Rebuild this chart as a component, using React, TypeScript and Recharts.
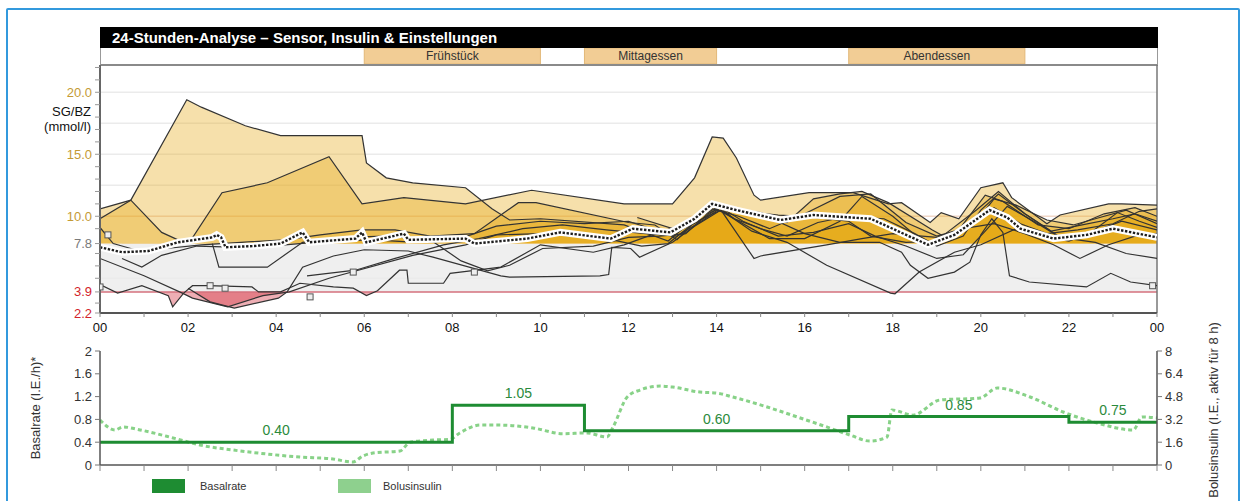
import React from "react";
import {
  ComposedChart, Line, Area, Scatter, XAxis, YAxis,
  ReferenceArea, ReferenceLine, ReferenceDot,
} from "recharts";

type Pt = [number, number];

// ---- x axis (hours of the day)
const HOUR_TICKS = [0, 1, 2, 3, 4, 5, 6, 7, 8, 9, 10, 11, 12, 13, 14, 15, 16, 17, 18, 19, 20, 21, 22, 23, 24];
const HOUR_LABELS = ["00", "02", "04", "06", "08", "10", "12", "14", "16", "18", "20", "22", "00"];

// ---- glucose axis
const GLUCOSE_TICKS = [2.2, 3, 3.9, 5, 6, 7, 7.8, 9, 10, 11, 12, 13, 14, 15, 16, 17, 18, 19, 20, 21, 22];
const GLUCOSE_LABEL_VALUES = [2.2, 3.9, 7.8, 10, 15, 20];
const GLUCOSE_LABEL_TEXT = ["2.2", "3.9", "7.8", "10.0", "15.0", "20.0"];
const GRID_VALUES = [5, 12.5, 15, 17.5, 20];

// ---- meals
const MEALS = ["Frühstück", "Mittagessen", "Abendessen"];
const MEAL_START = [6, 11, 17];
const MEAL_END = [10, 14, 21];

// ---- sensor traces (hour, mmol/l)
const TRACE_1: Pt[] = [[0, 10.6], [0.7, 11.3], [1.97, 19.4], [2.3, 18.8], [3.3, 17.3], [4.1, 16.5], [5.95, 16.5], [6.05, 14.3], [6.5, 13.1], [7.1, 12.7], [8.3, 12.3], [8.9, 10.6], [9.3, 9.7], [10.0, 9.8], [11.9, 9.3], [12.9, 8.0], [13.4, 9.5], [14.0, 10.9], [14.4, 9.8], [15.0, 9.0], [15.6, 8.4], [16.3, 9.5], [17.0, 10.0], [17.8, 9.8], [18.5, 8.6], [19.0, 7.6], [19.6, 8.4], [20.0, 10.5], [20.4, 11.8], [21.0, 10.2], [21.6, 8.8], [22.3, 9.3], [23.0, 9.8], [23.5, 10.2], [24, 9.6]];
const TRACE_2: Pt[] = [[0, 9.8], [0.7, 11.3], [1.4, 8.7], [1.77, 8.1], [2.05, 8.0], [2.77, 11.9], [3.8, 12.7], [5.2, 14.8], [5.95, 11.0], [6.9, 11.5], [8.3, 11.0], [9.8, 12.1], [11.9, 11.0], [13.0, 11.0], [13.5, 13.1], [13.9, 16.4], [14.15, 16.3], [14.45, 14.7], [14.85, 11.7], [15.0, 11.3], [16.1, 11.9], [17.1, 11.9], [17.9, 11.0], [18.2, 11.1], [18.85, 9.5], [19.1, 10.3], [19.5, 9.8], [20.0, 12.3], [20.5, 12.7], [20.7, 11.5], [21.5, 9.4], [21.8, 10.1], [22.9, 11.0], [23.2, 11.0], [24, 10.9]];
const TRACE_3: Pt[] = [[0, 9.1], [0.3, 7.8], [0.8, 7.3], [1.5, 7.4], [2.3, 7.7], [3.2, 7.9], [4.2, 8.1], [5.0, 8.5], [5.95, 8.9], [6.7, 8.9], [7.5, 8.4], [8.5, 8.6], [9.5, 11.1], [9.9, 11.1], [12.0, 9.5], [12.6, 9.3], [13.1, 8.1], [13.6, 9.9], [14.05, 10.8], [15.0, 10.3], [15.6, 9.5], [16.2, 11.4], [16.8, 11.8], [17.3, 12.0], [17.9, 11.1], [18.9, 8.9], [19.3, 8.1], [19.9, 9.6], [20.3, 11.4], [20.8, 10.9], [21.5, 9.7], [22.1, 9.3], [22.7, 9.9], [23.3, 10.5], [24, 9.4]];
const TRACE_4: Pt[] = [[0, 4.5], [0.4, 3.8], [0.95, 4.4], [1.55, 3.6], [1.65, 2.7], [1.9, 3.8], [2.1, 4.4], [2.45, 4.4], [3.45, 4.3], [3.6, 3.9], [4.1, 3.9], [4.54, 4.6], [5.3, 4.3], [5.75, 4.2], [6.05, 3.6], [6.3, 4.0], [6.8, 5.65], [6.97, 5.65], [7.0, 4.6], [7.8, 4.6], [7.95, 5.4], [8.55, 5.65], [9.1, 5.9], [10.0, 7.7], [11.2, 7.1], [11.9, 7.7], [12.6, 8.6], [13.2, 9.3], [13.9, 10.6], [14.5, 10.0], [15.2, 9.0], [16.0, 10.2], [16.8, 11.6], [17.5, 11.8], [18.3, 9.5], [19.0, 8.4], [19.5, 8.9], [20.1, 11.7], [20.5, 11.2], [21.3, 9.3], [22.0, 9.0], [22.8, 10.2], [23.5, 10.7], [24, 10.0]];
const TRACE_5: Pt[] = [[0, 6.6], [1.0, 5.2], [1.87, 3.8], [2.1, 3.4], [2.9, 2.7], [3.7, 3.6], [4.3, 3.9], [5.2, 5.0], [7.1, 6.85], [8.3, 7.7], [9.0, 8.5], [10.0, 8.6], [11.5, 8.2], [12.3, 7.6], [12.9, 7.8], [13.5, 9.5], [14.1, 10.5], [14.85, 6.6], [15.0, 6.8], [16.5, 7.7], [17.3, 8.2], [18.0, 8.6], [19.0, 8.3], [19.6, 9.0], [20.3, 9.4], [21.0, 8.6], [21.65, 7.7], [22.25, 6.6], [22.9, 7.7], [23.5, 8.4], [24, 8.6]];
const TRACE_6: Pt[] = [[2.0, 4.2], [2.5, 3.1], [3.05, 2.6], [4.05, 3.4], [4.25, 3.9], [4.6, 5.9], [5.3, 6.8], [6.0, 7.3], [7.0, 7.2], [7.56, 6.7], [9.1, 5.2], [9.3, 5.1], [11.35, 5.2], [11.55, 5.3], [11.62, 7.5], [12.05, 7.4], [12.25, 6.7], [13.0, 7.9], [13.5, 9.2], [14.1, 10.5], [14.8, 8.8], [15.6, 7.9], [16.5, 6.05], [17.95, 3.8], [18.05, 3.75], [18.6, 5.5], [19.4, 7.1], [20.0, 7.7], [20.8, 9.0], [21.3, 8.5], [22.0, 8.0], [22.5, 8.7], [23.1, 10.3], [23.6, 9.6], [24, 9.1]];
const TRACE_7: Pt[] = [[2.55, 7.8], [2.7, 5.9], [3.8, 5.9], [4.6, 7.9], [5.5, 8.3], [6.5, 8.4], [7.5, 8.1], [8.2, 6.4], [8.8, 5.6], [9.3, 6.05], [10.05, 7.4], [11.2, 7.6], [12.0, 8.3], [12.7, 8.4], [13.3, 8.6], [13.8, 10.2], [14.2, 10.9], [15.0, 10.2], [16.0, 8.6], [16.8, 7.9], [17.7, 7.9], [18.2, 7.1], [18.4, 6.05], [18.8, 5.0], [19.4, 5.5], [19.75, 6.3], [20.0, 8.5], [20.25, 9.8], [20.5, 8.7], [20.65, 5.2], [21.1, 4.7], [22.4, 4.3], [22.95, 5.4], [23.4, 4.7], [24, 4.4]];
const TRACE_8: Pt[] = [[4.7, 5.2], [5.8, 5.65], [6.7, 6.6], [7.8, 7.7], [8.6, 8.2], [9.6, 9.0], [10.5, 9.3], [11.5, 8.9], [12.4, 8.6], [13.1, 8.4], [13.7, 9.7], [14.1, 10.7], [14.6, 9.6], [15.4, 8.4], [16.2, 8.7], [17.0, 9.4], [17.6, 8.4], [18.3, 7.6], [19.0, 6.6], [19.6, 6.9], [20.1, 8.8], [20.6, 10.8], [21.2, 9.6], [21.8, 8.3], [22.6, 7.9], [23.3, 7.0], [24, 6.6]];
const TRACE_9: Pt[] = [[0.5, 6.6], [0.95, 5.9], [1.4, 6.85], [2.2, 7.6], [3.2, 7.5], [4.2, 7.7], [5.2, 8.0], [6.2, 8.1], [7.2, 7.9], [8.0, 8.0], [9.0, 9.2], [10.0, 9.6], [11.0, 9.4], [12.0, 9.6], [12.5, 9.0], [13.0, 8.6], [13.6, 9.6], [14.1, 10.8], [14.6, 10.4], [15.4, 10.1], [16.0, 10.0], [17.0, 9.6], [17.5, 8.4], [18.3, 7.9], [19.0, 8.0], [19.8, 9.4], [20.3, 10.7], [20.9, 9.4], [21.5, 8.6], [22.2, 8.9], [23.0, 9.4], [23.6, 10.4], [24, 10.6]];
const TRACE_10: Pt[] = [[12.2, 9.9], [13.0, 9.0], [13.9, 10.8], [14.4, 9.8], [15.2, 8.2], [16.0, 8.2], [16.8, 9.6], [17.3, 11.6], [18.0, 10.0], [18.8, 7.6], [19.2, 8.6], [19.9, 10.5], [20.4, 12.0], [21.0, 10.2], [21.8, 8.3], [22.6, 8.8], [23.2, 9.6], [24, 8.9]];
const TRACES = [TRACE_1, TRACE_2, TRACE_3, TRACE_4, TRACE_5, TRACE_6, TRACE_7, TRACE_8, TRACE_9, TRACE_10];

// ---- median
const MEDIAN: Pt[] = [[0, 7.5], [0.5, 7.1], [1.1, 7.2], [1.77, 7.9], [2.55, 8.3], [2.65, 8.5], [2.75, 8.3], [2.85, 7.5], [3.5, 7.6], [4.1, 7.8], [4.6, 8.7], [4.75, 7.9], [5.8, 8.2], [5.95, 8.7], [6.05, 7.9], [6.9, 8.6], [7.0, 8.1], [8.3, 8.2], [8.5, 7.8], [9.7, 8.2], [10.45, 8.7], [11.6, 8.2], [12.1, 9.0], [12.95, 8.7], [13.5, 9.8], [13.9, 11.0], [14.45, 10.5], [15.45, 9.7], [16.2, 10.1], [17.5, 9.8], [18.8, 7.7], [19.4, 8.5], [20.2, 10.5], [20.6, 9.9], [20.9, 9.0], [21.65, 8.2], [22.4, 8.5], [23.0, 9.0], [24, 8.3]];

// ---- blood glucose meter readings
const BZ_H = [0, 0.18, 2.5, 2.84, 4.77, 5.75, 8.5, 23.9];
const BZ_V = [4.3, 8.5, 4.4, 4.2, 3.5, 5.5, 5.5, 4.4];

// ---- insulin
const BASAL_START = [0, 8, 11, 17, 22];
const BASAL_RATE = [0.4, 1.05, 0.6, 0.85, 0.75];
const BASAL_TICKS = [0, 0.4, 0.8, 1.2, 1.6, 2];
const BOLUS_TICKS = [0, 1.6, 3.2, 4.8, 6.4, 8];
const BOLUS_H = [0, 0.34, 0.52, 0.91, 1.66, 2.27, 3.02, 3.79, 4.54, 5.29, 5.74, 5.97, 6.2, 6.81, 7.04, 7.56, 7.95, 8.17, 8.63, 9.08, 9.83, 10.51, 11.06, 11.51, 11.65, 11.97, 12.26, 12.72, 13.0, 13.62, 14.0, 14.37, 15.15, 15.9, 16.5, 17.03, 17.48, 17.87, 17.98, 18.46, 19.07, 19.98, 20.37, 21.12, 21.87, 22.64, 23.46, 23.66, 24];
const BOLUS_V = [3.16, 2.46, 2.67, 2.46, 1.9, 1.4, 1.05, 0.77, 0.56, 0.42, 0.21, 0.63, 0.84, 0.98, 1.6, 1.75, 1.8, 2.25, 2.8, 2.8, 2.6, 2.2, 2.25, 1.96, 2.67, 4.77, 5.26, 5.54, 5.47, 5.12, 5.05, 4.77, 4.07, 3.3, 2.67, 2.1, 1.68, 1.96, 3.86, 3.5, 4.56, 4.7, 5.4, 4.77, 3.72, 2.95, 2.46, 3.37, 3.3];

// ---- layout
const W = 1245;
const TOP_H = 350;
const PLOT_L = 100;
const PLOT_R = 1157;
const PLOT_T = 65;
const PLOT_B = 313;
const Y_MIN = 2.2;
const Y_MAX = 22.2;
const HIGH = 7.8;
const LOW = 3.9;
const FONT = '"Liberation Sans", Arial, Helvetica, sans-serif';
const LABEL_COLORS = ["#d2232a", "#d2232a", "#7a7a7a", "#c49a35", "#c49a35", "#c49a35"];

const yPix = (v: number) => PLOT_T + ((Y_MAX - v) / (Y_MAX - Y_MIN)) * (PLOT_B - PLOT_T);
const rows = (pts: Pt[]) => pts.map(([h, v]) => ({ h, v }));
const hourLabel = (h: number) => (h % 2 === 0 ? HOUR_LABELS[h / 2] : "");

const overlayMargin = { top: PLOT_T, right: W - PLOT_R, bottom: TOP_H - PLOT_B, left: PLOT_L };

function GlucoseTick({ x, y, payload }: any) {
  const i = GLUCOSE_LABEL_VALUES.findIndex((g) => Math.abs(g - payload.value) < 1e-6);
  if (i < 0) return <g />;
  return (
    <text x={x} y={y} dy={4.5} textAnchor="end" fontSize={13} fill={LABEL_COLORS[i]}>
      {GLUCOSE_LABEL_TEXT[i]}
    </text>
  );
}

export default function App() {
  const basalRows = [
    ...BASAL_START.map((h, i) => ({ h, v: BASAL_RATE[i] })),
    { h: 24, v: BASAL_RATE[BASAL_RATE.length - 1] },
  ];
  const bolusRows = BOLUS_H.map((h, i) => ({ h, v: BOLUS_V[i] }));
  const bzRows = BZ_H.map((h, i) => ({ h, v: BZ_V[i] }));

  return (
    <div style={{ position: "absolute", left: 0, top: 0, width: W, height: 501, overflow: "hidden", background: "#fff", fontFamily: FONT }}>
      {/* outer frame */}
      <div style={{ position: "absolute", left: 6, top: 8, width: 1230, height: 540, border: "2px solid #3399dd", borderRadius: 2 }} />

      {/* title */}
      <div style={{ position: "absolute", left: 100, top: 27, width: 1046, height: 21, background: "#000", color: "#fff", fontWeight: "bold", fontSize: 15, lineHeight: "21px", paddingLeft: 12 }}>
        24-Stunden-Analyse – Sensor, Insulin &amp; Einstellungen
      </div>

      {/* meal row */}
      <div style={{ position: "absolute", left: 100, top: 48, width: 1056, height: 16, borderLeft: "1px solid #999", borderRight: "1px solid #999", borderBottom: "2px solid #8a8a8a" }} />
      <div style={{ position: "absolute", left: 0, top: 48 }}>
        <ComposedChart width={W} height={16} margin={{ top: 0, right: W - PLOT_R, bottom: 0, left: PLOT_L }}>
          <XAxis hide type="number" dataKey="h" domain={[0, 24]} allowDataOverflow />
          <YAxis hide type="number" dataKey="v" domain={[0, 1]} allowDataOverflow />
          {MEALS.map((m, i) => (
            <ReferenceArea key={m} x1={MEAL_START[i]} x2={MEAL_END[i]} y1={0} y2={1} fill="#f2cd95" fillOpacity={1} stroke="#e2b878"
              label={{ value: m, position: "center", fill: "#333", fontSize: 12 }} />
          ))}
        </ComposedChart>
      </div>

      {/* axis title */}
      <div style={{ position: "absolute", left: 20, top: 104, width: 71, textAlign: "right", fontSize: 13, lineHeight: "15px", color: "#111" }}>
        SG/BZ<br />(mmol/l)
      </div>

      {/* base: target band + grid */}
      <div style={{ position: "absolute", left: 0, top: 0 }}>
        <ComposedChart width={W} height={TOP_H} margin={overlayMargin}>
          <XAxis hide type="number" dataKey="h" domain={[0, 24]} allowDataOverflow />
          <YAxis hide type="number" dataKey="v" domain={[Y_MIN, Y_MAX]} allowDataOverflow />
          <ReferenceArea y1={LOW} y2={HIGH} fill="#efefef" fillOpacity={1} stroke="none" />
          {GRID_VALUES.map((g) => (
            <ReferenceLine key={g} y={g} stroke="#ebebeb" strokeWidth={1.5} />
          ))}
          <ReferenceLine y={10} stroke="#f2d8c8" strokeWidth={1.5} />
        </ComposedChart>
      </div>

      {/* fills above 7.8 */}
      <div style={{ position: "absolute", left: 0, top: 0, clipPath: `inset(${PLOT_T}px ${W - PLOT_R}px ${TOP_H - yPix(HIGH)}px ${PLOT_L}px)` }}>
        <ComposedChart width={W} height={TOP_H} margin={overlayMargin}>
          <XAxis hide type="number" dataKey="h" domain={[0, 24]} allowDataOverflow />
          <YAxis hide type="number" dataKey="v" domain={[Y_MIN, Y_MAX]} allowDataOverflow />
          {TRACES.map((t, i) => (
            <Area key={i} data={rows(t)} dataKey="v" type="linear" baseValue={HIGH} stroke="none" fill="#e6a817" fillOpacity={0.36} isAnimationActive={false} />
          ))}
        </ComposedChart>
      </div>

      {/* fills below 3.9 */}
      <div style={{ position: "absolute", left: 0, top: 0, clipPath: `inset(${yPix(LOW)}px ${W - PLOT_R}px ${TOP_H - PLOT_B}px ${PLOT_L}px)` }}>
        <ComposedChart width={W} height={TOP_H} margin={overlayMargin}>
          <XAxis hide type="number" dataKey="h" domain={[0, 24]} allowDataOverflow />
          <YAxis hide type="number" dataKey="v" domain={[Y_MIN, Y_MAX]} allowDataOverflow />
          {TRACES.map((t, i) => (
            <Area key={i} data={rows(t)} dataKey="v" type="linear" baseValue={LOW} stroke="none" fill="#d63e4c" fillOpacity={0.42} isAnimationActive={false} />
          ))}
        </ComposedChart>
      </div>

      {/* traces, median and axes */}
      <div style={{ position: "absolute", left: 0, top: 0 }}>
        <ComposedChart width={W} height={TOP_H} margin={{ top: PLOT_T, right: W - PLOT_R, bottom: 7, left: 40 }}>
          <XAxis type="number" dataKey="h" domain={[0, 24]} ticks={HOUR_TICKS} interval={0} tickFormatter={hourLabel} height={30}
            tickSize={4} tickMargin={6} tick={{ fontSize: 13, fill: "#111" }} axisLine={{ stroke: "#555", strokeWidth: 2 }} tickLine={{ stroke: "#888" }} allowDataOverflow />
          <YAxis type="number" dataKey="v" domain={[Y_MIN, Y_MAX]} ticks={GLUCOSE_TICKS} interval={0} width={60} tickSize={5} tickMargin={3}
            tick={(p: any) => <GlucoseTick {...p} />} axisLine={{ stroke: "#666", strokeWidth: 2 }} tickLine={{ stroke: "#999" }} allowDataOverflow />
          <ReferenceLine y={LOW} stroke="#d5707c" strokeWidth={1.5} />
          <ReferenceLine x={24} stroke="#777" strokeWidth={1.5} />
          {TRACES.map((t, i) => (
            <Line key={i} data={rows(t)} dataKey="v" type="linear" stroke="#333" strokeWidth={1.2} dot={false} isAnimationActive={false} />
          ))}
          <Line data={rows(MEDIAN)} dataKey="v" type="linear" stroke="#fff" strokeWidth={7} dot={false} isAnimationActive={false} />
          <Line data={rows(MEDIAN)} dataKey="v" type="linear" stroke="#1e1e1e" strokeWidth={2.4} strokeDasharray="2.4 1.6" dot={false} isAnimationActive={false} />
          <Scatter data={bzRows} dataKey="v" isAnimationActive={false}
            shape={(p: any) => <rect x={p.cx - 3} y={p.cy - 3} width={6} height={6} fill="#eee" stroke="#555" strokeWidth={1} />} />
        </ComposedChart>
      </div>

      {/* insulin panel */}
      <div style={{ position: "absolute", left: 0, top: 330 }}>
        <ComposedChart width={W} height={170} margin={{ top: 21, right: 28, bottom: 5, left: 40 }}>
          <XAxis type="number" dataKey="h" domain={[0, 24]} ticks={HOUR_TICKS} interval={0} tickFormatter={() => ""} height={30}
            tickSize={6} axisLine={{ stroke: "#555", strokeWidth: 1.5 }} tickLine={{ stroke: "#888" }} />
          <YAxis yAxisId="l" type="number" domain={[0, 2]} ticks={BASAL_TICKS} interval={0} width={60} tickSize={5} tickMargin={3}
            tick={{ fontSize: 13, fill: "#333" }} axisLine={{ stroke: "#555", strokeWidth: 1.5 }} tickLine={{ stroke: "#777" }}
            tickFormatter={(v: number) => (v === 0 || v === 2 ? String(v) : v.toFixed(1))} />
          <YAxis yAxisId="r" orientation="right" type="number" domain={[0, 8]} ticks={BOLUS_TICKS} interval={0} width={60} tickSize={5} tickMargin={3}
            tick={{ fontSize: 13, fill: "#333" }} axisLine={{ stroke: "#555", strokeWidth: 1.5 }} tickLine={{ stroke: "#777" }}
            tickFormatter={(v: number) => (v === 0 || v === 8 ? String(v) : v.toFixed(1))} />
          <Line yAxisId="r" data={bolusRows} dataKey="v" type="monotone" stroke="#88d288" strokeWidth={3} strokeDasharray="4 3" dot={false} isAnimationActive={false} />
          <Line yAxisId="l" data={basalRows} dataKey="v" type="stepAfter" stroke="#1e8c32" strokeWidth={3} dot={false} isAnimationActive={false} />
          {BASAL_START.map((s, i) => {
            const end = i < BASAL_START.length - 1 ? BASAL_START[i + 1] : 24;
            return (
              <ReferenceDot key={s} yAxisId="l" x={(s + end) / 2} y={BASAL_RATE[i]} r={0} stroke="none" fill="none"
                label={{ value: BASAL_RATE[i].toFixed(2), position: "top", offset: 7, fill: "#2b8a3c", fontSize: 14 }} />
            );
          })}
        </ComposedChart>
      </div>

      {/* insulin axis titles */}
      <div style={{ position: "absolute", left: 35, top: 408, transform: "translate(-50%, -50%) rotate(-90deg)", whiteSpace: "nowrap", fontSize: 13, color: "#333" }}>
        Basalrate (I.E./h)*
      </div>
      <div style={{ position: "absolute", left: 1213, top: 410, transform: "translate(-50%, -50%) rotate(-90deg)", whiteSpace: "nowrap", fontSize: 13, color: "#333" }}>
        Bolusinsulin (I.E., aktiv für 8 h)
      </div>

      {/* legend */}
      <div style={{ position: "absolute", left: 152, top: 479, width: 33, height: 14, background: "#1e8c32" }} />
      <div style={{ position: "absolute", left: 200, top: 479, fontSize: 11, lineHeight: "14px", color: "#333" }}>Basalrate</div>
      <div style={{ position: "absolute", left: 338, top: 479, width: 33, height: 14, background: "#8ed08e" }} />
      <div style={{ position: "absolute", left: 383, top: 479, fontSize: 11, lineHeight: "14px", color: "#333" }}>Bolusinsulin</div>
    </div>
  );
}
